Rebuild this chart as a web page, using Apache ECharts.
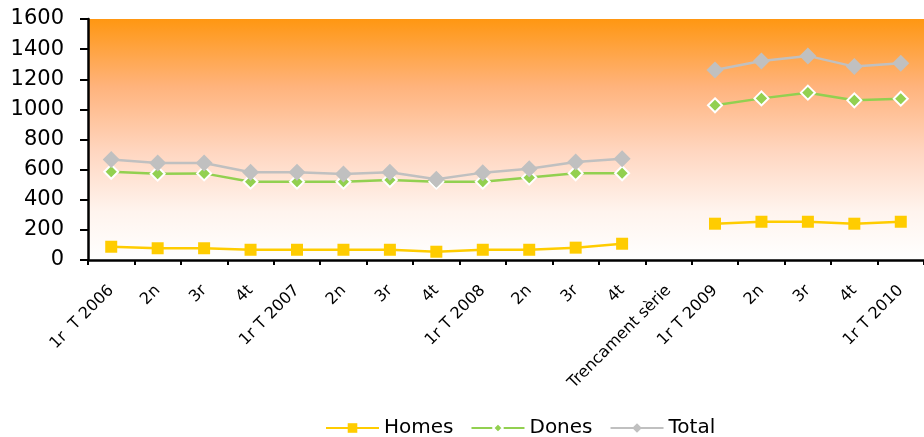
<!DOCTYPE html>
<html><head><meta charset="utf-8">
<script src="https://cdn.jsdelivr.net/npm/echarts@6/dist/echarts.min.js"></script>
<style>html,body{margin:0;padding:0;background:#fff}#c{width:924px;height:437px}</style>
</head><body><div id="c"></div>
<script>
const categories = ['1r  T 2006','2n','3r','4t','1r T 2007','2n','3r','4t','1r T 2008','2n','3r','4t','Trencament sèrie','1r T 2009','2n','3r','4t','1r T 2010'];
const homes = [88,78,78,68,68,68,68,55,68,68,82,108,null,241,254,254,241,254];
const dones = [586,573,575,520,520,520,531,520,520,547,576,576,null,1027,1073,1111,1060,1071];
const total = [668,644,644,582,582,571,582,536,580,606,651,673,null,1262,1321,1355,1284,1306];
const yTicks = [0,200,400,600,800,1000,1200,1400,1600];

const chart = echarts.init(document.getElementById('c'));
const font = 'DejaVu Sans';
chart.setOption({
  animation: false,
  textStyle: {fontFamily: font},
  grid: {left: 88, top: 19, bottom: 177, right: -9, show: true, borderWidth: 0,
    backgroundColor: new echarts.graphic.LinearGradient(0,0,0,1,[
      {offset:0,color:'#FF9712'},{offset:0.28,color:'#FFB37C'},{offset:0.55,color:'#FFD6C0'},
      {offset:0.8,color:'#FFF4EE'},{offset:1,color:'#FFFFFF'}])},
  legend: {bottom: -6, left: 320, itemWidth: 53, itemHeight: 12, itemGap: 17,
    textStyle: {fontSize: 20, color: '#000', fontFamily: font},
    data: [{name:'Homes'},{name:'Dones'},{name:'Total'}]},
  xAxis: {type: 'category', data: categories, boundaryGap: true,
    axisLine: {lineStyle: {color: '#000', width: 2.5}},
    axisTick: {show: true, length: 5, lineStyle: {color: '#000', width: 2}},
    axisLabel: {rotate: 45, interval: 0, fontSize: 16, color: '#000', fontFamily: font, margin: 28}},
  yAxis: {type: 'value', min: 0, max: yTicks[yTicks.length-1], interval: 200,
    splitLine: {show: false},
    axisLine: {show: true, lineStyle: {color: '#000', width: 2.5}},
    axisTick: {show: true, length: 8, lineStyle: {color: '#000', width: 2}},
    axisLabel: {fontSize: 21, color: '#000', fontFamily: font, margin: 24, formatter: v => String(v)}},
  series: [
    {name: 'Homes', type: 'line', data: homes, connectNulls: false, symbol: 'rect', symbolSize: 12,
      lineStyle: {color: '#FFCC00', width: 2.5}, itemStyle: {color: '#FFCC00'}},
    {name: 'Dones', type: 'line', data: dones, connectNulls: false, symbol: 'diamond', symbolSize: 14,
      lineStyle: {color: '#92D050', width: 2.5}, itemStyle: {color: '#92D050', borderColor: '#fff', borderWidth: 2}},
    {name: 'Total', type: 'line', data: total, connectNulls: false, symbol: 'diamond', symbolSize: 17,
      lineStyle: {color: '#C0C0C0', width: 2.5}, itemStyle: {color: '#C0C0C0'}}
  ]
});
</script></body></html>
